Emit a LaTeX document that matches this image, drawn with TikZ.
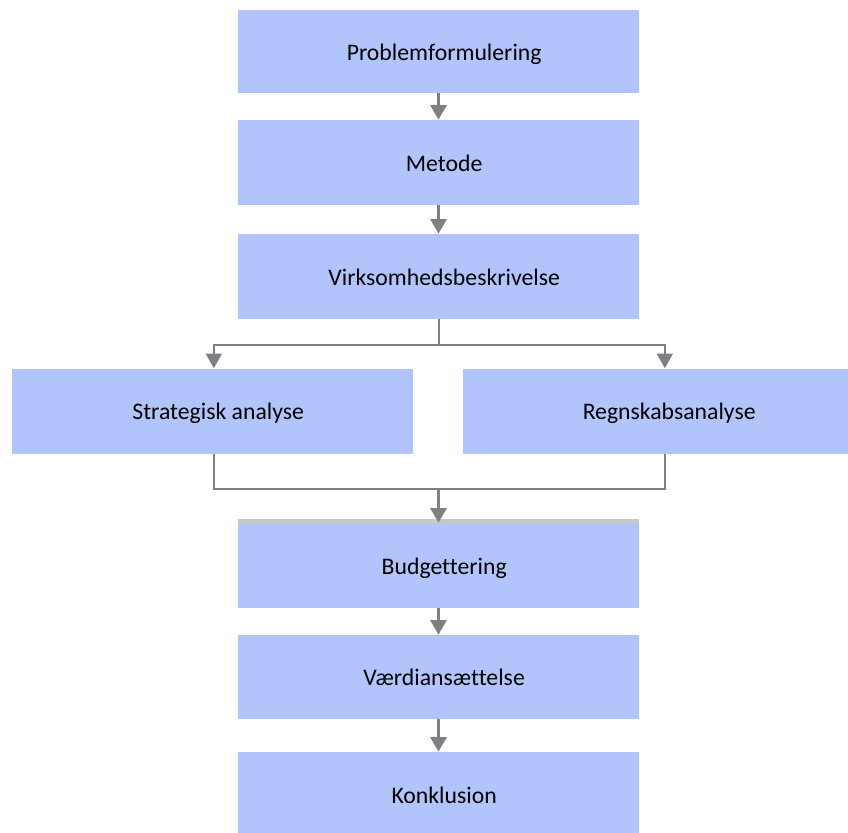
\documentclass[tikz,border=0pt]{standalone}
\usepackage{fontspec}
\setmainfont{Carlito}[Ligatures=NoCommon]
\usetikzlibrary{positioning,arrows.meta,calc}
\definecolor{boxblue}{HTML}{B1C4FB}
\definecolor{linegray}{HTML}{7F7F85}
\definecolor{rulegray}{HTML}{C8C8C8}

\begin{document}
\begin{tikzpicture}[x=0.75pt,y=-0.75pt,font=\fontsize{17.8}{21}\selectfont,
  stage/.style={fill=boxblue,minimum width=300.75pt,minimum height=63.75pt,inner sep=0pt,
    text height=15pt,text depth=2pt,execute at begin node={\hspace*{8.5pt}}},
  flow/.style={draw=linegray,line width=2.2pt,-{Triangle[width=12pt,length=11pt]}},
  link/.style={draw=linegray,line width=1.5pt},
  branch/.style={link,-{Triangle[width=12pt,length=11pt]}}]
  \useasboundingbox (0,0) rectangle (848,832);

  % ---------------- main column ----------------
  \node[stage,minimum height=62.25pt] (prob) at (438.5,51.5) {Problemformulering};
  \node[stage] (meth) at (438.5,162.5) {Metode};
  \node[stage] (virk) at (438.5,276.5) {Virksomhedsbeskrivelse};

  % ---------------- the two analyses ----------------
  \node[stage] (strat) at (212.5,411) {Strategisk analyse};
  \node[stage] (regn) at (663.5,411) {Regnskabsanalyse};

  % ---------------- lower column ----------------
  \node[stage] (budget) at (438.5,565.5) {Budgettering};
  \draw[rulegray,line width=3pt] ([yshift=1.5pt]budget.north west) -- ([yshift=1.5pt]budget.north east);
  \node[stage,minimum height=63pt] (value) at (438.5,677) {Værdiansættelse};
  \node[stage] (concl) at (438.5,794.5) {Konklusion};

  \draw[flow] (prob) -- (meth);
  \draw[flow] (meth) -- (virk);
  \draw[flow] (budget) -- (value);
  \draw[flow] (value) -- (concl);

  % split after the description, join before the budget
  \coordinate (split) at ($(virk.south)+(0,26)$);
  \coordinate (join) at ($(budget.north)+(0,-34)$);
  \draw[link] (virk.south) -- (split);
  \draw[branch] (split) -| ([xshift=1pt]strat.north);
  \draw[branch] (split) -| ([xshift=1pt]regn.north);
  \draw[link] ([xshift=1pt]strat.south) |- (join);
  \draw[link] ([xshift=1pt]regn.south) |- (join);
  \draw[flow] (join) -- (budget.north);
\end{tikzpicture}
\end{document}
